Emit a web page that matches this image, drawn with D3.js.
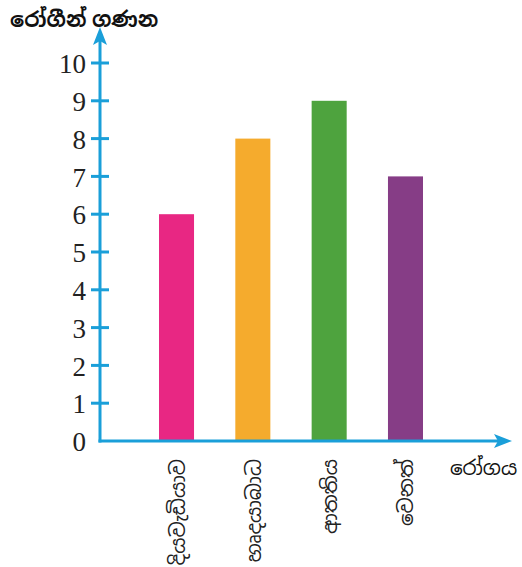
<!DOCTYPE html>
<html>
<head>
<meta charset="utf-8">
<script src="https://cdn.jsdelivr.net/npm/d3@7/dist/d3.min.js"></script>
<style>
  body { margin: 0; background: #fff; }
  svg { display: block; }
</style>
</head>
<body>
<svg id="chart" width="522" height="567"></svg>
<script>
// Patients per disease
const categories = ["දියවැඩියාව", "හෘදයාබාධ", "ආතතිය", "වෙනත්"];
const patients = [6, 8, 9, 7];
const barColors = ["#e82783", "#f5ab2d", "#4ea33e", "#863d86"];
const yTicks = [0, 1, 2, 3, 4, 5, 6, 7, 8, 9, 10];
const yTitle = "රෝගීන් ගණන";
const xTitle = "රෝගය";

const axisColor = "#1a9fd9";
const svg = d3.select("#chart");

const origin = { x: 100, y: 441 };

const y = d3.scaleLinear().domain([0, 10]).range([origin.y, 63]);
const x = d3.scaleBand()
  .domain(categories)
  .range([origin.x, 482])
  .paddingInner(0.541)
  .paddingOuter(0.773);

// bars
svg.append("g")
  .selectAll("rect")
  .data(categories)
  .join("rect")
  .attr("x", d => x(d))
  .attr("width", x.bandwidth())
  .attr("y", (d, i) => y(patients[i]))
  .attr("height", (d, i) => y(0) - y(patients[i]))
  .attr("fill", (d, i) => barColors[i]);

// y axis with crossing ticks
const yAxis = svg.append("g");
yAxis.append("line")
  .attr("x1", origin.x).attr("x2", origin.x)
  .attr("y1", origin.y + 1.5).attr("y2", 40)
  .attr("stroke", axisColor).attr("stroke-width", 3);
yAxis.append("path")
  .attr("d", `M${origin.x},27 L${origin.x - 7},45 L${origin.x},41 L${origin.x + 7},45 Z`)
  .attr("fill", axisColor);

yAxis.selectAll("line.tick")
  .data(yTicks.filter(t => t > 0))
  .join("line")
  .attr("class", "tick")
  .attr("x1", origin.x - 9).attr("x2", origin.x + 9)
  .attr("y1", d => y(d)).attr("y2", d => y(d))
  .attr("stroke", axisColor).attr("stroke-width", 3);

yAxis.selectAll("text")
  .data(yTicks)
  .join("text")
  .attr("x", 86)
  .attr("y", d => y(d))
  .attr("dy", "0.38em")
  .attr("text-anchor", "end")
  .attr("font-family", "'Liberation Serif', 'DejaVu Serif', serif")
  .attr("font-size", 27)
  .attr("fill", "#222")
  .text(d => d);

// x axis
const xAxis = svg.append("g");
xAxis.append("line")
  .attr("x1", origin.x - 1.5).attr("x2", 500)
  .attr("y1", origin.y).attr("y2", origin.y)
  .attr("stroke", axisColor).attr("stroke-width", 3);
xAxis.append("path")
  .attr("d", `M512,${origin.y} L494,${origin.y - 7} L498,${origin.y} L494,${origin.y + 7} Z`)
  .attr("fill", axisColor);

// rotated category labels
xAxis.selectAll("text")
  .data(categories)
  .join("text")
  .attr("transform", d => `translate(${x(d) + x.bandwidth() / 2 + 8},${origin.y + 18}) rotate(-90)`)
  .attr("text-anchor", "end")
  .attr("font-family", "'Noto Sans', 'Noto Sans Sinhala', sans-serif")
  .attr("font-size", 20)
  .attr("fill", "#222")
  .text(d => d);

// axis titles
svg.append("text")
  .attr("x", 10).attr("y", 27)
  .attr("font-family", "'Noto Sans', 'Noto Sans Sinhala', sans-serif")
  .attr("font-size", 21)
  .attr("font-weight", "bold")
  .attr("fill", "#111")
  .text(yTitle);

svg.append("text")
  .attr("x", 450).attr("y", 475)
  .attr("font-family", "'Noto Sans', 'Noto Sans Sinhala', sans-serif")
  .attr("font-size", 20)
  .attr("fill", "#111")
  .text(xTitle);
</script>
</body>
</html>
